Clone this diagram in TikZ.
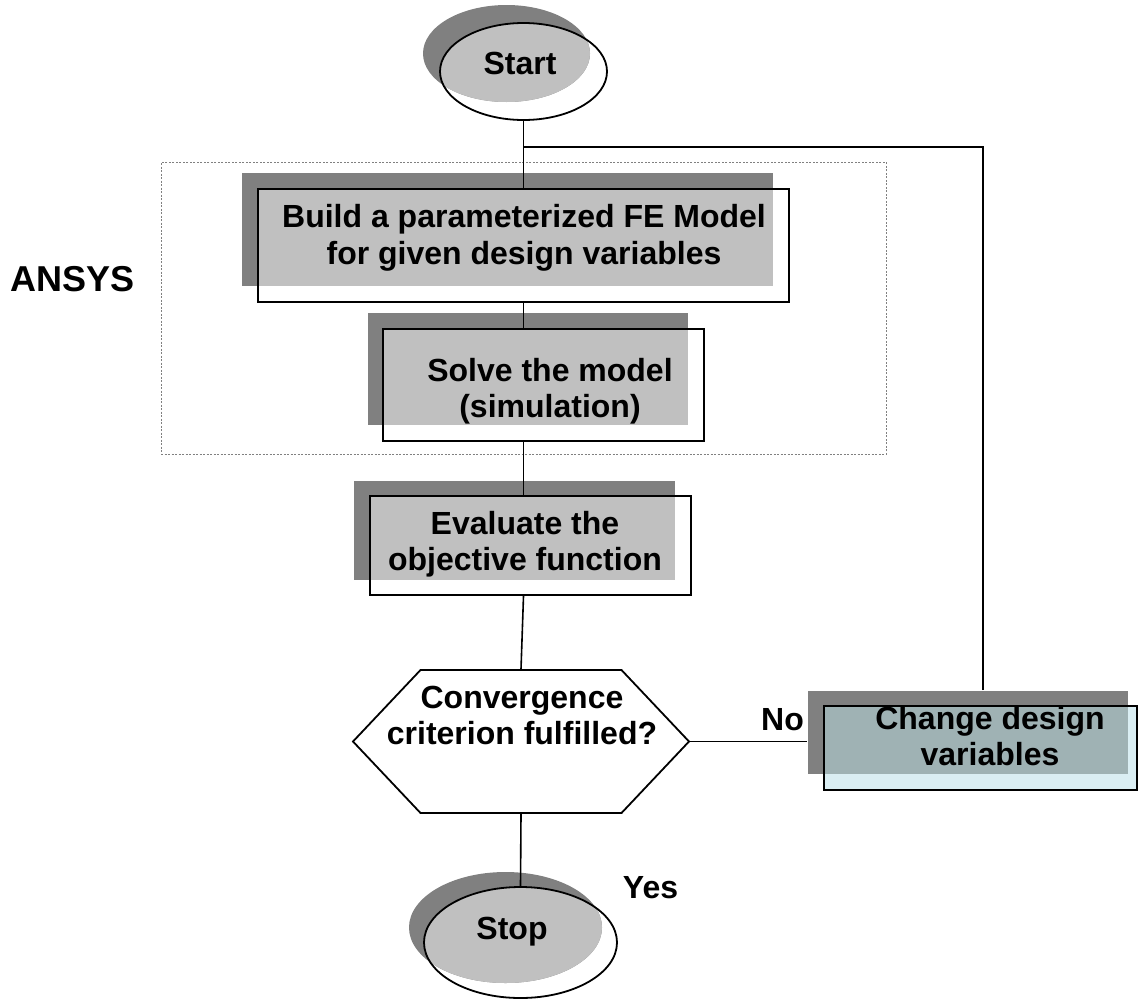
\documentclass[tikz,border=0pt]{standalone}
\usepackage{fontspec}
\setmainfont{Liberation Sans}
\usetikzlibrary{shapes.geometric,shapes.symbols}

\definecolor{shadowgray}{HTML}{808080}
\definecolor{facegray}{HTML}{C0C0C0}
\definecolor{chgface}{HTML}{DAEEF3}
\definecolor{chgmix}{HTML}{9FB2B4}

\begin{document}
\begin{tikzpicture}[
  x=1pt, y=-1pt,
  frame/.style={draw, line width=1.8pt, inner sep=0pt},
  box/.style={frame, rectangle},
  term/.style={frame, ellipse},
  test/.style={frame, signal, signal to=east and west, signal pointer angle=93.3, fill=white},
  group/.style={draw=gray, line width=1pt, dash pattern=on 2pt off 1.5pt, inner sep=0pt},
  lbl/.style={font=\bfseries\fontsize{32}{36}\selectfont, align=center, inner sep=0pt},
  shade/.style={fill=shadowgray},
  face/.style={fill=facegray},
  link/.style={line width=1.6pt},
]
\path[use as bounding box, fill=white] (0,0) rectangle (1140,999);

% ANSYS part of the loop
\node[group, minimum width=725pt, minimum height=292pt] (ansys) at (523.5,308) {};
\node[lbl, anchor=base, font=\bfseries\fontsize{36}{40}\selectfont] (ansyslbl) at (73,291) {ANSYS};

% start
\fill[shade] (506.5,53.5) ellipse [x radius=83.5, y radius=48.5];
\begin{scope}
  \clip (523.5,71.5) ellipse [x radius=83.5, y radius=48.5];
  \fill[face] (506.5,53.5) ellipse [x radius=83.5, y radius=48.5];
\end{scope}
\node[term, minimum width=167pt, minimum height=97pt] (start) at (523.5,71.5) {};
\node[lbl, anchor=base] (startlbl) at (520,74) {Start};

% FE model
\fill[shade] (242,173) rectangle (773,286);
\fill[face] (258,189) rectangle (773,286);
\node[box, minimum width=531pt, minimum height=113pt] (build) at (523.5,245.5) {};
\node[lbl, anchor=north, font=\bfseries\fontsize{32}{37}\selectfont] (buildlbl) at (524,204) {Build a parameterized FE Model\\for given design variables};

% solver
\fill[shade] (368,313) rectangle (688,425);
\fill[face] (383,329) rectangle (688,425);
\node[box, minimum width=321pt, minimum height=112pt] (solve) at (543.5,385) {};
\node[lbl, anchor=north] (solvelbl) at (550,358.5) {Solve the model\\(simulation)};

% objective
\fill[shade] (354,481) rectangle (675,580);
\fill[face] (370,496) rectangle (675,580);
\node[box, minimum width=321pt, minimum height=99pt] (eval) at (530.5,545.5) {};
\node[lbl, anchor=north] (evallbl) at (525,511.5) {Evaluate the\\objective function};

% convergence test
\node[test, minimum width=336pt, minimum height=143pt] (dec) at (521,741.5) {};
\node[lbl, anchor=north] (declbl) at (522,685.5) {Convergence\\criterion fulfilled?};

% new design variables
\fill[chgface] (824,706) rectangle (1137,790);
\fill[shade] (808,691) rectangle (1128,774);
\fill[chgmix] (824,706) rectangle (1128,774);
\node[box, minimum width=313pt, minimum height=84pt] (chg) at (980.5,748) {};
\node[lbl, anchor=north] (chglbl) at (990,706.5) {Change design\\variables};

% stop
\fill[shade] (505.5,927.5) ellipse [x radius=96.5, y radius=55.5];
\begin{scope}
  \clip (520.5,942.5) ellipse [x radius=96.5, y radius=55.5];
  \fill[face] (505.5,927.5) ellipse [x radius=96.5, y radius=55.5];
\end{scope}
\node[term, minimum width=193pt, minimum height=111pt] (stop) at (520.5,942.5) {};
\node[lbl, anchor=base] (stoplbl) at (512,939) {Stop};

% flow
\draw[link] (start.south) -- (build.north);
\draw[link] (build.south) -- (build.south |- solve.north);
\draw[link] (solve.south -| build.south) -- (build.south |- eval.north);
\draw[link] (eval.south -| build.south) -- (dec.north);
\draw[link] (dec.south) -- (stop.north);

% back to the model
\coordinate (chgin) at ([xshift=-16pt]chg.west);
\coordinate (chgtop) at ([xshift=2.5pt,yshift=15pt]chg.north);
\coordinate (loop) at (523.5,147);
\draw[link] (dec.east) -- (chgin |- dec.east);
\draw[link] (chgtop) |- (loop);

\node[lbl, anchor=base] (no) at (782.5,730) {No};
\node[lbl, anchor=base] (yes) at (650.5,898) {Yes};
\end{tikzpicture}
\end{document}
